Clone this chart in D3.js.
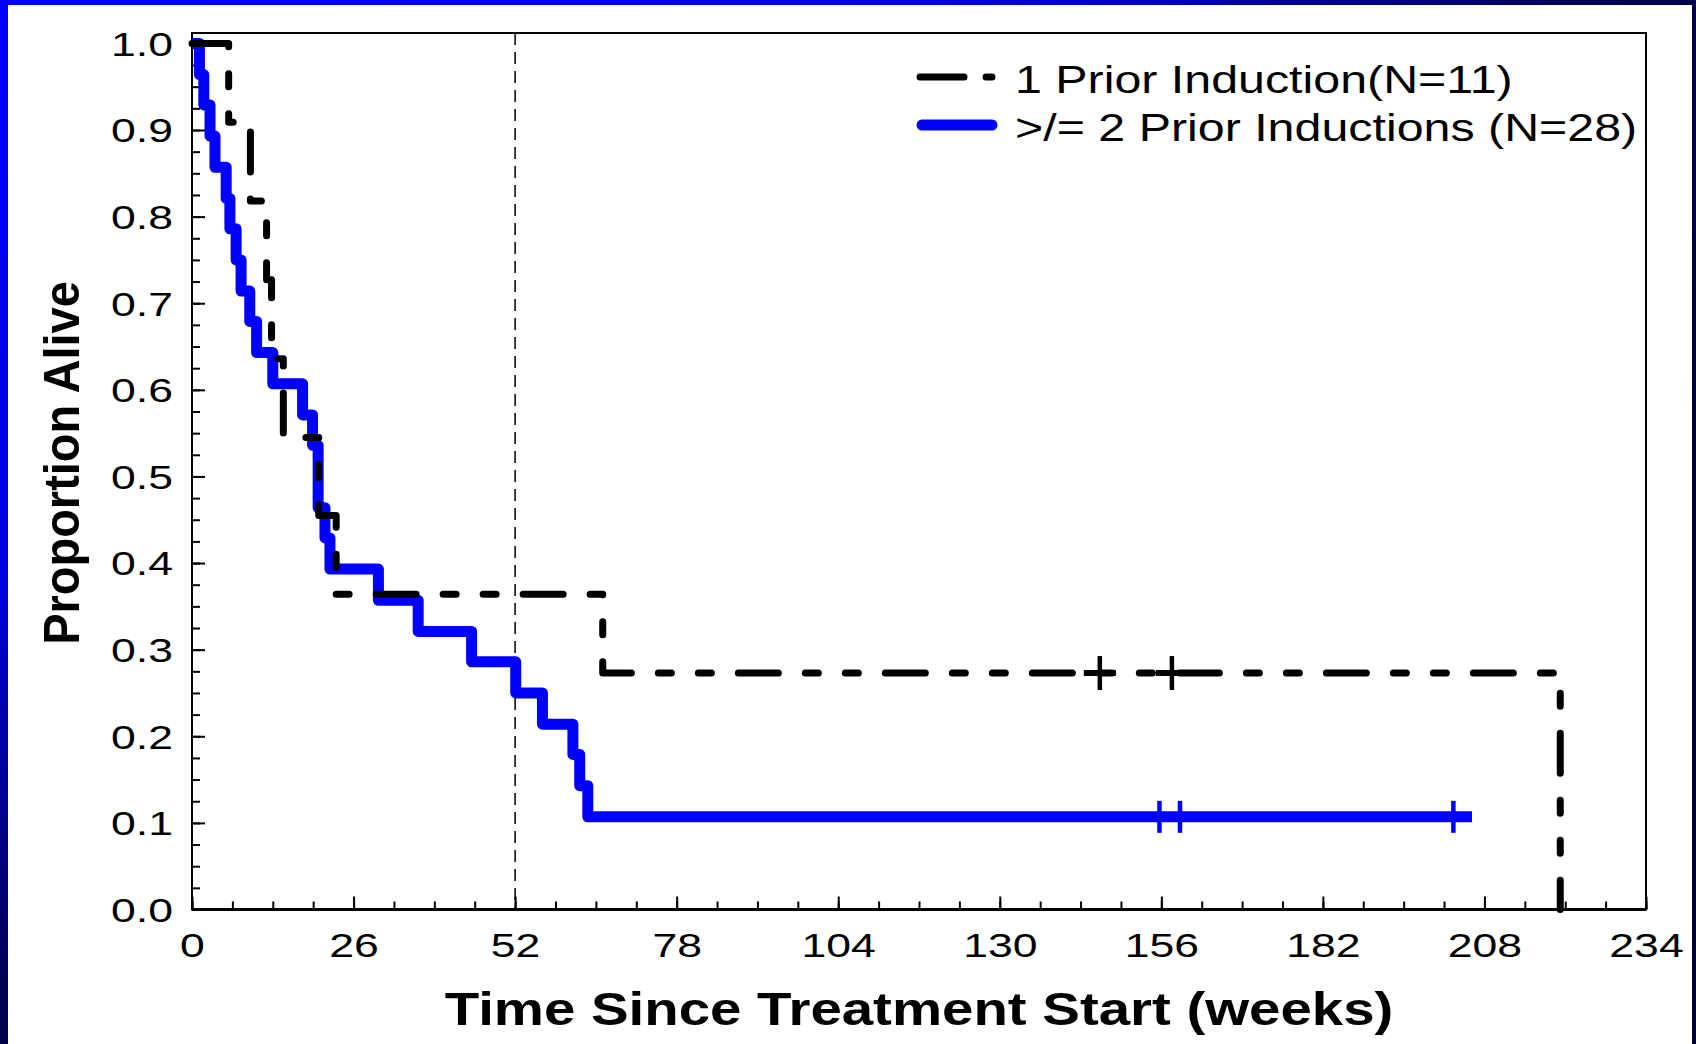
<!DOCTYPE html>
<html>
<head>
<meta charset="utf-8">
<script src="https://cdn.jsdelivr.net/npm/d3@7"></script>
<style>
  html, body { margin: 0; padding: 0; background: #fff; }
  svg { display: block; }
  text { font-family: Arial, "Liberation Sans", Helvetica, sans-serif; fill: #000; }
</style>
</head>
<body>
<svg id="chart" width="1696" height="1044"></svg>
<script>
// Kaplan-Meier survival by number of prior inductions
// 1 prior induction (N=11): event times (weeks) and survival after each event
const oneInductionTimes = [0, 5.9, 9.4, 12.0, 12.8, 14.7, 20.4, 23.2, 66.1, 220.2];
const oneInductionSurv  = [1.0, 0.909, 0.818, 0.727, 0.636, 0.545, 0.455, 0.364, 0.273, 0.0];
const oneInductionCensored = [146.1, 157.7];

// >= 2 prior inductions (N=28)
const twoPlusTimes = [0, 1.2, 1.9, 2.9, 3.7, 5.5, 6.1, 7.1, 7.9, 9.3, 10.4, 13.0, 17.8, 19.4, 20.3,
                      21.4, 22.2, 30.0, 36.4, 45.0, 52.1, 56.4, 61.3, 62.4, 63.7, 206.0];
const twoPlusSurv  = [1.0, 0.964, 0.929, 0.893, 0.857, 0.821, 0.786, 0.750, 0.714, 0.679, 0.643, 0.607,
                      0.571, 0.536, 0.464, 0.429, 0.393, 0.357, 0.321, 0.286, 0.250, 0.214, 0.179, 0.143,
                      0.107, 0.107];
const twoPlusCensored = [155.7, 159.0, 203.0];

const xTicks = [0, 26, 52, 78, 104, 130, 156, 182, 208, 234];
const yTicks = [0.0, 0.1, 0.2, 0.3, 0.4, 0.5, 0.6, 0.7, 0.8, 0.9, 1.0];
const legendLabels = ["1 Prior Induction(N=11)", ">/= 2 Prior Inductions (N=28)"];
const referenceWeek = 52;

const svg = d3.select("#chart");
const W = 1696, H = 1044;
const plot = { left: 192, right: 1646, top: 33, bottom: 909.5 };

// frame background: blue fading to navy
const defs = svg.append("defs");
const grad = defs.append("radialGradient")
  .attr("id", "frameGrad").attr("gradientUnits", "userSpaceOnUse")
  .attr("cx", 0).attr("cy", 0).attr("r", 1)
  .attr("gradientTransform", `scale(${W * 1.1},${H * 1.1})`);
grad.append("stop").attr("offset", 0).attr("stop-color", "#0000ff");
grad.append("stop").attr("offset", 0.5).attr("stop-color", "#0000e0");
grad.append("stop").attr("offset", 0.85).attr("stop-color", "#000058");
grad.append("stop").attr("offset", 1).attr("stop-color", "#000033");
svg.append("rect").attr("width", W).attr("height", H).attr("fill", "url(#frameGrad)");
svg.append("rect").attr("x", 8).attr("y", 5).attr("width", W - 12).attr("height", H - 5).attr("fill", "#fff");

const x = d3.scaleLinear().domain([0, 234]).range([plot.left, plot.right]);
const y = d3.scaleLinear().domain([0, 1.012]).range([plot.bottom, plot.top]);

// horizontally stretched text helper
function stretch(sel, sx) {
  sel.each(function () {
    const t = d3.select(this);
    const tx = +t.attr("x") || 0, ty = +t.attr("y") || 0;
    t.attr("x", 0).attr("y", 0).attr("transform", `translate(${tx},${ty}) scale(${sx},1)`);
  });
}

// y axis: minor ticks then major ticks with labels, ticks pointing inward
const yAxisG = svg.append("g").attr("transform", `translate(${plot.left},0)`);
yAxisG.append("g").call(d3.axisLeft(y).tickValues(d3.range(0, 1.001, 0.025)).tickSize(-8).tickFormat(""))
  .call(g => g.select(".domain").remove());
const yMajor = yAxisG.append("g")
  .call(d3.axisLeft(y).tickValues(yTicks).tickSize(-13).tickPadding(19).tickFormat(d3.format(".1f")))
  .call(g => g.select(".domain").remove());
yAxisG.selectAll("line").attr("stroke", "#000").attr("stroke-width", 2);
yMajor.selectAll("text").attr("font-size", 33).attr("font-family", null).attr("dy", "0.36em");
stretch(yMajor.selectAll("text"), 1.35);

// x axis
const xAxisG = svg.append("g").attr("transform", `translate(0,${plot.bottom})`);
xAxisG.append("g").call(d3.axisBottom(x).tickValues(d3.range(0, 234.1, 6.5)).tickSize(-8).tickFormat(""))
  .call(g => g.select(".domain").remove());
const xMajor = xAxisG.append("g")
  .call(d3.axisBottom(x).tickValues(xTicks).tickSize(-13).tickFormat(d3.format("d")))
  .call(g => g.select(".domain").remove());
xAxisG.selectAll("line").attr("stroke", "#000").attr("stroke-width", 2);
xMajor.selectAll("text").attr("font-size", 33).attr("font-family", null).attr("y", 47.5).attr("dy", 0);
stretch(xMajor.selectAll("text"), 1.35);

// plot frame
svg.append("rect")
  .attr("x", plot.left).attr("y", plot.top)
  .attr("width", plot.right - plot.left).attr("height", plot.bottom - plot.top)
  .attr("fill", "none").attr("stroke", "#000").attr("stroke-width", 2);
svg.append("line")
  .attr("x1", plot.left).attr("x2", plot.right).attr("y1", plot.bottom).attr("y2", plot.bottom)
  .attr("stroke", "#000").attr("stroke-width", 3);

// one-year reference line
svg.append("line")
  .attr("x1", x(referenceWeek)).attr("x2", x(referenceWeek))
  .attr("y1", plot.top).attr("y2", plot.bottom)
  .attr("stroke", "#000").attr("stroke-width", 1.5).attr("stroke-dasharray", "12,7");

const step = d3.line().x(d => x(d[0])).y(d => y(d[1])).curve(d3.curveStepAfter);
const blackDash = "40,27,13,27,13,27";

// >= 2 prior inductions curve
svg.append("path")
  .datum(d3.zip(twoPlusTimes, twoPlusSurv))
  .attr("d", step)
  .attr("fill", "none").attr("stroke", "#0000ff").attr("stroke-width", 11)
  .attr("stroke-linejoin", "round");
const lastBlue = twoPlusSurv[twoPlusSurv.length - 1];
svg.append("g").selectAll("line").data(twoPlusCensored).join("line")
  .attr("x1", d => x(d)).attr("x2", d => x(d))
  .attr("y1", y(lastBlue) - 16).attr("y2", y(lastBlue) + 16)
  .attr("stroke", "#0000ff").attr("stroke-width", 4.5);

// 1 prior induction curve
svg.append("path")
  .datum(d3.zip(oneInductionTimes, oneInductionSurv))
  .attr("d", step)
  .attr("fill", "none").attr("stroke", "#000").attr("stroke-width", 7)
  .attr("stroke-linecap", "round").attr("stroke-linejoin", "round")
  .attr("stroke-dasharray", blackDash);
const censLevel = oneInductionSurv[oneInductionSurv.length - 2];
const plus = svg.append("g").selectAll("g").data(oneInductionCensored).join("g")
  .attr("transform", d => `translate(${x(d)},${y(censLevel)})`);
plus.append("line").attr("x1", 0).attr("x2", 0).attr("y1", -17).attr("y2", 17)
  .attr("stroke", "#000").attr("stroke-width", 4.5);
plus.append("line").attr("x1", -16).attr("x2", 16).attr("y1", 0).attr("y2", 0)
  .attr("stroke", "#000").attr("stroke-width", 6);

// legend
const legend = svg.append("g");
legend.append("line").attr("x1", 920).attr("x2", 998).attr("y1", 77).attr("y2", 77)
  .attr("stroke", "#000").attr("stroke-width", 7).attr("stroke-linecap", "round")
  .attr("stroke-dasharray", "44,22,6");
legend.append("line").attr("x1", 922).attr("x2", 992).attr("y1", 125).attr("y2", 125)
  .attr("stroke", "#0000ff").attr("stroke-width", 11).attr("stroke-linecap", "round");
const legText = legend.selectAll("text").data(legendLabels).join("text")
  .attr("x", 1015).attr("y", (d, i) => 93 + i * 48)
  .attr("font-size", 39).text(d => d);
stretch(legText, 1.24);

// axis titles
const xTitle = svg.append("text").attr("x", (plot.left + plot.right) / 2).attr("y", 1025)
  .attr("text-anchor", "middle").attr("font-size", 47).attr("font-weight", "bold")
  .text("Time Since Treatment Start (weeks)");
stretch(xTitle, 1.2);
svg.append("text")
  .attr("transform", "translate(79,463) scale(1.07,1) rotate(-90)")
  .attr("text-anchor", "middle").attr("font-size", 47).attr("font-weight", "bold")
  .text("Proportion Alive");
</script>
</body>
</html>
